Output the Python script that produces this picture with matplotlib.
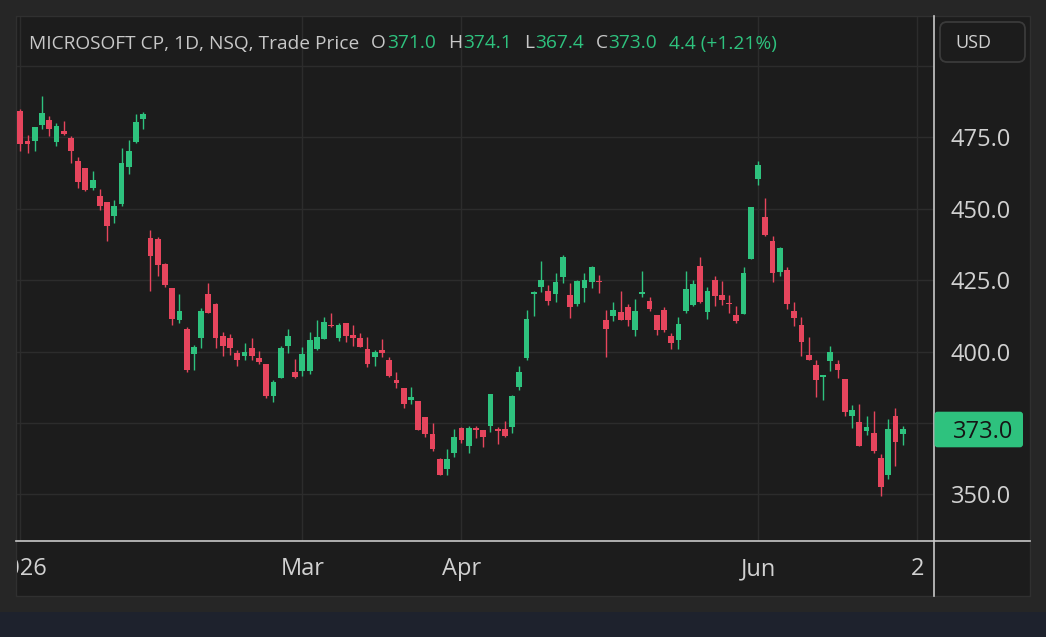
import numpy as np
import matplotlib
matplotlib.use("Agg")
import matplotlib.pyplot as plt
from matplotlib.patches import Rectangle, FancyBboxPatch
from matplotlib.lines import Line2D

plt.rcParams["font.family"] = ["Open Sans", "DejaVu Sans"]

# daily candles
opens = [484.2, 473.8, 473.5, 479.1, 481.1, 473.4, 477.3, 474.6, 466.5, 464.2,
         457.3, 454.5, 452.3, 447.3, 451.7, 464.7, 473.4, 481.3, 439.8, 439.5,
         430.5, 422.1, 411.1, 407.8, 399.3, 404.9, 420.0, 416.5, 405.3, 404.7,
         399.5, 398.3, 401.2, 397.7, 395.5, 384.6, 390.6, 402.0, 392.9, 393.2,
         393.2, 400.9, 404.3, 409.3, 404.6, 410.1, 405.8, 404.9, 400.9, 398.0,
         400.6, 397.1, 390.1, 387.1, 383.0, 382.7, 377.1, 371.0, 362.3, 359.0,
         364.4, 373.4, 366.9, 373.4, 372.6, 374.1, 372.9, 372.9, 373.5, 387.5,
         397.7, 420.2, 422.6, 421.0, 420.1, 426.2, 419.9, 416.6, 422.2, 424.4,
         424.8, 411.1, 412.5, 413.7, 415.4, 407.6, 420.1, 417.8, 412.9, 414.6,
         405.3, 404.1, 414.3, 416.4, 429.8, 413.8, 424.9, 419.9, 416.9, 412.9,
         413.0, 432.4, 460.2, 447.0, 438.7, 427.8, 428.6, 414.1, 409.3, 398.8,
         395.3, 391.2, 396.7, 395.7, 390.4, 377.4, 375.5, 372.1, 371.5, 362.8,
         356.8, 377.6, 371.0]
highs = [484.8, 475.9, 478.4, 489.5, 482.5, 479.9, 480.7, 475.5, 468.2, 464.2,
         463.3, 456.8, 452.3, 452.9, 471.1, 474.1, 482.9, 483.9, 442.4, 440.0,
         431.0, 422.1, 420.0, 408.7, 402.2, 415.1, 424.1, 417.1, 406.7, 406.1,
         400.6, 402.9, 404.9, 400.3, 395.5, 390.2, 401.8, 407.8, 397.4, 401.7,
         406.7, 411.0, 412.0, 413.3, 410.1, 410.1, 409.3, 406.4, 405.0, 400.6,
         404.4, 398.0, 392.8, 387.1, 387.6, 382.7, 377.1, 375.1, 362.9, 365.8,
         372.9, 373.7, 373.9, 373.9, 372.6, 385.2, 373.5, 375.7, 384.8, 395.0,
         414.6, 421.3, 431.8, 423.4, 427.3, 433.9, 423.9, 424.9, 427.5, 430.0,
         426.9, 414.6, 417.3, 421.3, 416.7, 418.5, 428.3, 419.0, 412.9, 415.4,
         406.4, 411.9, 428.3, 425.1, 433.1, 422.6, 426.5, 424.8, 419.9, 416.0,
         429.6, 450.5, 466.8, 453.6, 440.5, 436.6, 429.6, 417.3, 412.0, 405.0,
         397.1, 391.9, 402.0, 397.1, 390.4, 381.3, 381.6, 377.4, 379.2, 364.1,
         376.3, 380.3, 374.1]
lows = [470.0, 469.5, 470.0, 477.9, 475.5, 472.0, 475.8, 466.0, 457.3, 456.0,
        456.4, 449.6, 438.6, 444.8, 450.8, 462.2, 473.0, 477.8, 421.3, 426.5,
        422.7, 409.2, 409.8, 392.7, 393.7, 401.4, 413.3, 401.4, 398.3, 398.8,
        394.8, 397.1, 397.1, 395.6, 383.7, 382.3, 390.6, 399.5, 390.6, 391.6,
        392.0, 400.6, 404.3, 408.5, 403.8, 403.3, 402.1, 401.5, 394.6, 395.1,
        398.0, 391.0, 387.2, 380.2, 381.8, 372.4, 370.2, 365.2, 356.8, 356.8,
        363.0, 368.1, 364.4, 369.6, 366.5, 371.7, 367.5, 370.0, 371.4, 386.6,
        396.9, 412.5, 420.8, 416.4, 417.3, 423.8, 411.7, 416.0, 417.3, 422.2,
        420.4, 398.0, 410.8, 411.1, 409.0, 405.5, 419.0, 414.3, 405.8, 406.8,
        400.9, 400.9, 413.4, 416.0, 416.9, 411.5, 416.0, 416.4, 413.4, 409.9,
        413.0, 432.4, 458.4, 440.5, 424.3, 426.5, 414.7, 409.0, 398.5, 397.2,
        384.0, 383.1, 393.2, 390.9, 377.4, 373.4, 366.9, 370.7, 364.6, 349.4,
        355.5, 359.8, 367.4]
closes = [472.6, 472.6, 478.4, 483.3, 478.0, 479.0, 476.0, 470.3, 459.2, 456.4,
          459.9, 450.8, 443.8, 451.0, 465.9, 470.2, 480.2, 482.9, 433.5, 430.1,
          423.1, 411.5, 414.2, 393.5, 401.7, 414.0, 413.3, 404.6, 401.8, 401.4,
          397.0, 399.9, 398.3, 396.2, 384.4, 389.5, 401.1, 405.3, 391.0, 399.0,
          404.2, 405.2, 410.4, 408.9, 409.3, 405.6, 404.6, 401.5, 395.6, 400.0,
          399.4, 391.5, 389.0, 381.7, 384.1, 372.7, 371.0, 365.8, 356.8, 362.3,
          370.2, 369.0, 373.4, 372.6, 370.0, 385.2, 372.2, 370.4, 384.5, 393.0,
          411.4, 420.5, 425.0, 417.8, 424.2, 433.1, 415.5, 424.5, 425.0, 429.6,
          424.3, 407.8, 414.6, 411.1, 411.1, 414.3, 420.8, 415.0, 407.6, 407.6,
          402.9, 409.7, 422.0, 423.7, 417.2, 421.0, 419.3, 418.1, 416.6, 410.7,
          427.3, 450.5, 465.1, 440.9, 427.5, 436.1, 416.5, 411.7, 403.3, 397.2,
          390.1, 391.8, 399.8, 393.6, 378.8, 379.5, 366.9, 373.7, 365.1, 352.6,
          372.9, 368.3, 373.0]

time_ticks = [0, 39, 61, 102, 124]
time_labels = ["2026", "Mar", "Apr", "Jun", "2"]
price_ticks = [350, 375, 400, 425, 450, 475, 500]
price_labels = ["350.0", "", "400.0", "425.0", "450.0", "475.0", ""]
title = "MICROSOFT CP, 1D, NSQ, Trade Price"
change_text = "4.4 (+1.21%)"

GREEN = "#2ec27e"
RED = "#e6455d"
TXT = "#d1d1d1"
W, H = 1046, 637


def fx(px):
    return px / W


def fy(py):
    return 1 - py / H


def inch(px, py):
    return px / 100, (H - py) / 100


fig = plt.figure(figsize=(W / 100, H / 100), dpi=100)
fig.patch.set_facecolor("#262626")
fig.patches.append(Rectangle((0, 0), W / 100, (H - 612) / 100, transform=fig.dpi_scale_trans,
                             facecolor="#1e222d", edgecolor="none", zorder=-2))
fig.patches.append(Rectangle(inch(16, 596), (1030 - 16) / 100, (596 - 16) / 100,
                             transform=fig.dpi_scale_trans, facecolor="#1c1c1c",
                             edgecolor="#303030", lw=1, zorder=-1))

# main price pane
ax = fig.add_axes([fx(17), fy(540.5), fx(934.3 - 17), (540.5 - 17) / H])
ax.set_facecolor("none")
idx = np.arange(len(opens))
o = np.array(opens)
c = np.array(closes)
cols = np.where(c >= o, GREEN, RED)
ax.vlines(idx, lows, highs, colors=cols, lw=1.0, zorder=2)
body_h = np.maximum(np.abs(c - o), 0.5)
ax.bar(idx, body_h, bottom=np.minimum(o, c), width=0.8, color=cols, lw=0, zorder=3)

ax.set_xlim(-0.456, 126.37)
ax.set_ylim(333.9, 517.0)
for s in ax.spines.values():
    s.set_visible(False)
ax.set_xticks(time_ticks)
ax.set_yticks(price_ticks)
ax.set_yticklabels(price_labels)
ax.yaxis.tick_right()
ax.tick_params(axis="x", length=0, labelbottom=False)
ax.tick_params(axis="y", length=0, pad=11.8, labelsize=17, labelcolor=TXT)
ax.grid(color="#2c2c2c", lw=1)
ax.set_axisbelow(True)

# time axis strip (labels clipped to it, like the first one in the reference)
ax_t = fig.add_axes([fx(17), fy(596), fx(934.3 - 17), (596 - 540.5) / H])
ax_t.set_xlim(ax.get_xlim())
ax_t.set_ylim(0, 1)
ax_t.axis("off")
for pos, lab in zip(time_ticks, time_labels):
    ax_t.text(pos, 0.37, lab, ha="center", va="baseline", fontsize=17,
              color=TXT, clip_on=True)

# pane separators
fig.lines.append(Line2D([fx(16), fx(1030)], [fy(540.5), fy(540.5)], transform=fig.transFigure,
                        color="#c8c8c8", lw=1.2, zorder=5))
fig.lines.append(Line2D([fx(934.3), fx(934.3)], [fy(16), fy(596)], transform=fig.transFigure,
                        color="#c8c8c8", lw=1.2, zorder=5))

# last price marker
fig.patches.append(FancyBboxPatch(inch(934.5, 447.3), (1023 - 934.5) / 100, (447.3 - 411.7) / 100,
                                  boxstyle="round,pad=0,rounding_size=0.03",
                                  transform=fig.dpi_scale_trans, facecolor=GREEN,
                                  edgecolor="none", zorder=6))
fig.text(fx(1013), fy(429.5), f"{closes[-1]:.1f}", ha="right", va="center_baseline",
         fontsize=17, color="#151515", zorder=7)

# currency button
fig.patches.append(FancyBboxPatch(inch(940, 62), 85 / 100, 40 / 100,
                                  boxstyle="round,pad=0,rounding_size=0.07",
                                  transform=fig.dpi_scale_trans, facecolor="#1c1c1c",
                                  edgecolor="#3a3a3a", lw=1.3, zorder=6))
fig.text(fx(955), fy(48), "USD", ha="left", va="baseline", fontsize=13,
         color=TXT, zorder=7)

# legend line with OHLC
parts = [(title, "#c8c8c8", 12), ("O", "#c8c8c8", 1), (f"{opens[-1]:.1f}", GREEN, 12),
         ("H", "#c8c8c8", 1), (f"{highs[-1]:.1f}", GREEN, 12),
         ("L", "#c8c8c8", 1), (f"{lows[-1]:.1f}", GREEN, 12),
         ("C", "#c8c8c8", 1), (f"{closes[-1]:.1f}", GREEN, 12),
         (change_text, GREEN, 0)]
renderer = fig.canvas.get_renderer()
x = 29
for txt, col, gap in parts:
    t = fig.text(fx(x), fy(48.5), txt, ha="left", va="baseline", fontsize=13.8,
                 color=col, zorder=7)
    x = t.get_window_extent(renderer).x1 + gap

fig.savefig("out.png", dpi=100, facecolor=fig.get_facecolor())
